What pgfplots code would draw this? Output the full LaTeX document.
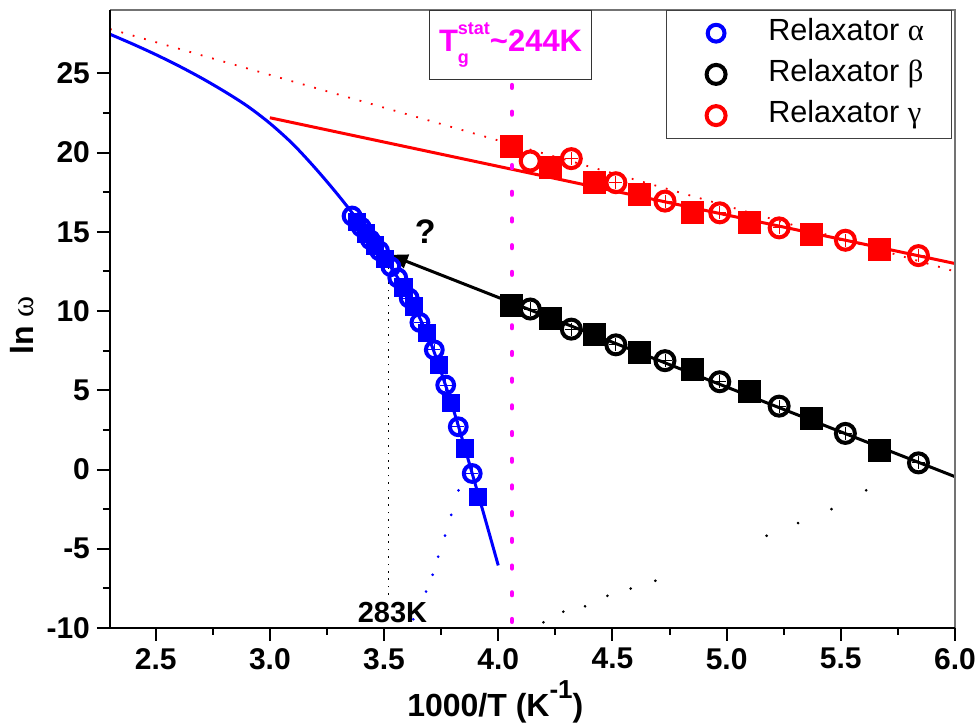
\documentclass[border=0pt]{standalone}
\usepackage{pgfplots}
\pgfplotsset{compat=1.18}
\usepackage{fontspec}
\setmainfont{Liberation Sans}
\newfontfamily\grk{Liberation Serif}
\usetikzlibrary{arrows.meta}
\definecolor{mag}{RGB}{255,0,255}
\begin{document}
\begin{tikzpicture}
\begin{axis}[
  scale only axis, width=422.5pt, height=309pt,
  xmin=2.3, xmax=6.0, ymin=-10, ymax=29,
  clip=false,
  axis line style={draw=none},
  tick pos=left, tick align=outside,
  major tick length=6.5pt, minor tick length=3.5pt,
  every tick/.append style={black, line width=1pt},
  every minor tick/.append style={black, line width=1pt},
  xtick={2.5,3,3.5,4,4.5,5,5.5,6}, ytick={-10,-5,0,5,10,15,20,25},
  minor x tick num=1, minor y tick num=1,
  /pgf/number format/assume math mode=true,
  tick label style={font=\bfseries\fontsize{15}{18}\selectfont},
  xticklabel style={/pgf/number format/.cd, fixed, fixed zerofill, precision=1},
  xlabel={1000/T (K\raisebox{9pt}{\fontsize{13}{14}\selectfont -1})},
  xlabel style={at={(axis description cs:0.456,-0.144)}, anchor=base, font=\bfseries\fontsize{16}{18}\selectfont},
  ylabel={ln {\grk\mdseries ω}},
  ylabel style={at={(axis description cs:-0.104,0.49)}, anchor=center, font=\bfseries\fontsize{16}{18}\selectfont},
  legend style={at={(1,1)}, anchor=north east, xshift=-1.5pt, draw=black!75, line width=0.6pt,
    font=\fontsize{15.3}{17}\selectfont, inner xsep=10.5pt, inner ysep=1pt, row sep=0pt,
    nodes={inner sep=3.3pt, text height=10.5pt, text depth=3.5pt},
    /tikz/every odd column/.append style={column sep=6.5pt}},
  legend cell align=left,
  legend image code/.code={\draw[#1] plot coordinates {(14pt,0pt)}; \path (0pt,0pt) (30pt,0pt);},
]
% blue VFT curve
\addplot[blue, line width=1.5pt, smooth, forget plot] coordinates {
(2.3,27.47) (2.4,26.85) (2.5,26.19) (2.6,25.48) (2.7,24.71) (2.8,23.87) (2.9,22.95) (3.0,21.85)
(3.1,20.55) (3.2,19.0) (3.3,17.3) (3.4,15.45) (3.5,13.4) (3.6,11.15) (3.7,8.15) (3.8,3.95)
(3.9,-0.95) (4.0,-6.05)};
% red fits
\addplot[red, line width=1.5pt, forget plot] coordinates {(3.0,22.2) (6.0,13.0)};
\addplot[red, line width=0.9pt, dash pattern=on 0.9pt off 5pt, forget plot] coordinates {(2.3,27.8) (6.0,12.5)};
% black fit with arrow
\addplot[black, line width=1.5pt, -{Triangle[length=9pt,width=7pt]}, forget plot] coordinates {(6.0,-0.45) (3.525,13.55)};
% 283K guide
\addplot[black, line width=0.8pt, dash pattern=on 0.8pt off 2.9pt, forget plot] coordinates {(3.52,-7.9) (3.52,13.4)};
% sparse dotted extrapolations
\addplot[only marks, mark=*, mark size=0.45pt, blue, forget plot] coordinates {
(3.826,-1.32) (3.794,-2.86) (3.767,-4.17) (3.737,-5.5) (3.713,-6.64) (3.684,-7.7) (3.628,-9.45)};
\addplot[only marks, mark=*, mark size=0.45pt, black, forget plot] coordinates {
(4.198,-9.64) (4.285,-8.97) (4.38,-8.63) (4.478,-7.97) (4.58,-7.51) (4.688,-7.02)
(5.175,-4.18) (5.313,-3.38) (5.459,-2.50) (5.611,-1.31)};
% squares
\addplot[only marks, mark=square*, mark size=4.3pt, blue, mark options={draw=none, fill=blue}, forget plot] coordinates {
(3.38,15.65) (3.42,14.9) (3.46,14.15) (3.505,13.3) (3.585,11.5) (3.63,10.3) (3.686,8.6)
(3.74,6.6) (3.794,4.18) (3.855,1.33) (3.91,-1.73)};
\addplot[only marks, mark=square*, mark size=5.5pt, black, mark options={draw=none, fill=black}, forget plot] coordinates {
(4.059,10.34) (4.23,9.56) (4.42,8.50) (4.62,7.38) (4.85,6.33) (5.10,4.91) (5.37,3.23) (5.67,1.18)};
\addplot[only marks, mark=square*, mark size=5.5pt, red, mark options={draw=none, fill=red}, forget plot] coordinates {
(4.059,20.42) (4.23,19.05) (4.42,18.10) (4.62,17.36) (4.85,16.2) (5.10,15.57) (5.37,14.83) (5.67,13.92)};
% circles
\addplot[only marks, mark=o, mark size=4.2pt, blue, mark options={line width=2pt}] coordinates {
(3.36,16.0) (3.40,15.3) (3.44,14.5) (3.48,13.8) (3.53,12.8) (3.56,12.1) (3.61,10.82) (3.657,9.28)
(3.72,7.55) (3.77,5.33) (3.825,2.70) (3.886,-0.25)};
\addlegendentry{Relaxator {\grk α}}
\addplot[only marks, mark=o, mark size=4.75pt, black, mark options={line width=2pt}] coordinates {
(4.14,10.13) (4.32,8.86) (4.515,7.87) (4.73,6.87) (4.97,5.54) (5.23,4.0) (5.52,2.28) (5.84,0.42)};
\addlegendentry{Relaxator {\grk β}}
\addplot[only marks, mark=o, mark size=4.75pt, red, mark options={line width=2pt}] coordinates {
(4.14,19.47) (4.32,19.62) (4.515,18.10) (4.73,16.94) (4.97,16.2) (5.23,15.25) (5.52,14.47) (5.84,13.5)};
\addlegendentry{Relaxator {\grk γ}}
% error-bar crosses inside circles
\addplot[only marks, mark=+, mark size=3pt, blue, mark options={line width=0.4pt}, forget plot] coordinates {
(3.61,10.82) (3.657,9.28) (3.72,7.55) (3.77,5.33) (3.825,2.70) (3.886,-0.25)};
\addplot[only marks, mark=+, mark size=3.3pt, black, mark options={line width=0.4pt}, forget plot] coordinates {
(4.14,10.13) (4.32,8.86) (4.515,7.87) (4.73,6.87) (4.97,5.54) (5.23,4.0) (5.52,2.28) (5.84,0.42)};
\addplot[only marks, mark=+, mark size=3.3pt, red, mark options={line width=0.4pt}, forget plot] coordinates {
(4.32,19.62) (4.515,18.10) (4.73,16.94) (4.97,16.2) (5.23,15.25) (5.52,14.47) (5.84,13.5)};
% Tg line
\addplot[mag, line width=2.4pt, line cap=round, dash pattern=on 1.2pt off 12.15pt, forget plot] coordinates {(4.06,-9.6) (4.06,24.4)};
% frame
\draw[black!55, line width=0.6pt] (rel axis cs:0,1) -- (rel axis cs:1,1) -- (rel axis cs:1,0);
\draw[black, line width=1.1pt] (rel axis cs:0,1) -- (rel axis cs:0,0);
\draw[black, line width=1.1pt] ([xshift=-5pt]rel axis cs:0,0) -- (rel axis cs:1,0);
% annotations
\node[font=\bfseries\fontsize{17}{20}\selectfont] at (axis cs:3.68,15.0) {?};
\node[font=\bfseries\fontsize{14.5}{17}\selectfont] at (axis cs:3.537,-9.03) {283K};
\node[draw=black!80, fill=white, line width=0.6pt, minimum width=81pt, minimum height=34.5pt, anchor=south, inner sep=0pt, text=mag,
  font=\bfseries\fontsize{15.5}{18}\selectfont] at (axis cs:4.054,24.58)
  {T\makebox[0pt][l]{\raisebox{8.5pt}{\fontsize{9}{10}\selectfont stat}}\raisebox{-6pt}{\fontsize{9}{10}\selectfont g}\hspace{10.5pt}\textasciitilde 244K};
\end{axis}
\pgfresetboundingbox
\path ([shift={(-55pt,-49.5pt)}]current axis.south west) rectangle ([shift={(12pt,5pt)}]current axis.north east);
\end{tikzpicture}
\end{document}
